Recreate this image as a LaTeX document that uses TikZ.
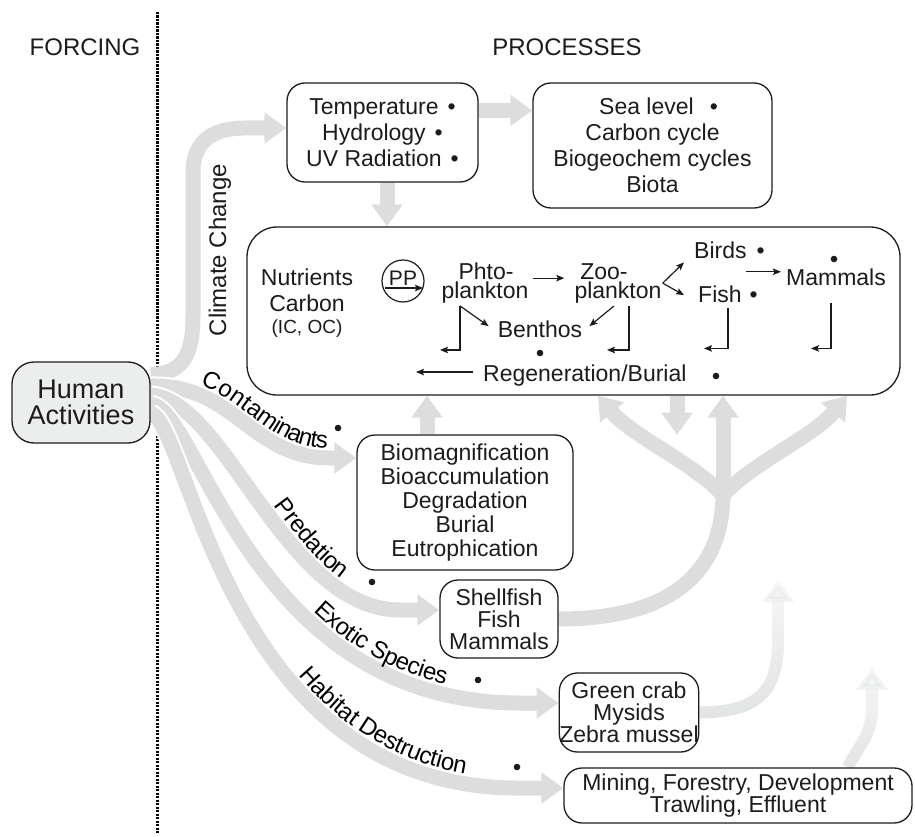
\documentclass[tikz,border=0pt]{standalone}
\usepackage{fontspec}
\setmainfont{Liberation Sans}
\usetikzlibrary{arrows.meta,decorations.text,fadings}
\pgfdeclarelayer{bg}
\pgfsetlayers{bg,main}
\definecolor{ink}{RGB}{28,28,28}
\definecolor{band}{RGB}{221,221,221}
\definecolor{faint}{RGB}{226,228,228}
\definecolor{hafill}{RGB}{236,238,238}
\tikzfading[name=upfade, top color=transparent!70, bottom color=transparent!0]
\newcommand{\bodyfont}{\fontsize{23}{26}\selectfont}
\newcommand{\labelfont}{\fontsize{24}{24}\selectfont}
\newcommand{\gap}{\hspace{9pt}}

\begin{document}
\begin{tikzpicture}[x=1pt,y=-1pt,
  every node/.style={inner sep=0pt,text=ink,font=\bodyfont},
  box/.style={draw=ink,line width=1.3pt,rounded corners=18pt,fill=white,align=center},
  flow/.style={draw=band,line width=15pt,-{Triangle[width=30pt,length=22pt]}},
  fflow/.style={draw=faint,line width=12pt,-{Triangle[width=30pt,length=22pt]},path fading=upfade},
  casing/.style={draw=white,line width=19pt,shorten >=24pt},
  link/.style={draw=ink,line width=1.2pt,-{Stealth[length=8pt,width=6.5pt,inset=1.5pt]}},
  along/.style={decorate,decoration={text along path,raise=10pt,text align={left indent=#1}}},
]
\useasboundingbox (0,0) rectangle (915,837);

% headings
\node[font=\labelfont] (forcing) at (85,47) {FORCING};
\node[font=\labelfont] (processes) at (567,47) {PROCESSES};

% boxes
\node[box,fill=hafill,rounded corners=22pt,minimum width=138pt,minimum height=81pt,
      font=\fontsize{27}{26}\selectfont] (human) at (81,402.5) {Human\\Activities};
\node[box,minimum width=191pt,minimum height=99pt] (temp) at (382.5,132.5)
  {Temperature\gap\textbullet\\Hydrology\gap\textbullet\\UV Radiation\gap\textbullet};
\node[box,minimum width=239pt,minimum height=125pt] (sea) at (652.5,145.5)
  {\hspace{12pt}Sea level\hspace{16pt}\textbullet\\Carbon cycle\\Biogeochem cycles\\Biota};
\node[box,rounded corners=30pt,minimum width=653pt,minimum height=168pt] (web) at (573.5,311) {};
\node[box,font=\fontsize{23}{24}\selectfont,minimum width=216pt,minimum height=135pt] (bio) at (465,502.5)
  {Biomagnification\\Bioaccumulation\\Degradation\\Burial\\Eutrophication};
\node[box,font=\fontsize{23}{22}\selectfont,minimum width=118pt,minimum height=78pt] (shell) at (499,619)
  {Shellfish\\Fish\\Mammals};
\node[box,font=\fontsize{23}{22}\selectfont,minimum width=132pt,minimum height=79pt] (crab) at (629,712.5)
  {Green crab\\Mysids\\Zebra mussel};
\node[box,font=\fontsize{23}{21}\selectfont,minimum width=348pt,minimum height=55pt] (mine) at (738,795.5)
  {Mining, Forestry, Development\\Trawling, Effluent};

% food web inside the large box
\node[anchor=base] (nut1) at (307,285) {Nutrients};
\node[anchor=base] (nut2) at (307,311) {Carbon};
\node[anchor=base,font=\fontsize{19}{19}\selectfont] (nut3) at (307,333) {(IC, OC)};
\node[circle,draw=ink,line width=1.2pt,minimum size=42pt] (pp) at (403,281) {};
\node[anchor=base,font=\fontsize{21}{21}\selectfont] (ppl) at (403,285) {PP};
\node[anchor=base] (phto1) at (486,279) {Phto-};
\node[anchor=base] (phto2) at (485,298) {plankton};
\node[anchor=base] (zoo1) at (604,279) {Zoo-};
\node[anchor=base] (zoo2) at (618,298) {plankton};
\node[anchor=base west] (birds) at (694,258) {Birds\hspace{10pt}\textbullet};
\node[anchor=base west] (fish) at (698,302) {Fish\hspace{8pt}\textbullet};
\node[anchor=base] (mammals) at (836,285) {Mammals};
\node[anchor=base] (benthos) at (540,337) {Benthos};
\node[anchor=base west] (regen) at (483,381) {Regeneration/Burial};
\fill[ink] (834,259) circle (3.3pt);
\fill[ink] (540,353) circle (3.3pt);
\fill[ink] (716,376) circle (3.3pt);

\draw[link] ([xshift=-18pt,yshift=-7pt]pp.center) -- ([xshift=20pt,yshift=-7pt]pp.center);
\draw[link] ([xshift=4pt,yshift=3pt]phto2.north east) -- ([xshift=-10pt,yshift=3pt]zoo2.north west);
\draw[link] ([xshift=-25pt,yshift=-3pt]phto2.south) -- ([xshift=-9pt,yshift=-6pt]benthos.north west);
\draw[link] ([xshift=-4pt,yshift=-3pt]zoo2.south) -- ([xshift=7pt,yshift=-6pt]benthos.north east);
\coordinate (forkpt) at ([xshift=1pt,yshift=-2pt]zoo2.north east);
\draw[link] (forkpt) -- ([xshift=-10pt,yshift=-4pt]birds.south west);
\draw[link] (forkpt) -- ([xshift=-14pt,yshift=-10pt]fish.north west);
\draw[link] ([xshift=-40pt,yshift=5pt]mammals.west) -- ([xshift=-5pt,yshift=5pt]mammals.west);
\draw[link] ([xshift=-25pt,yshift=-3pt]phto2.south) -- ++(0,44) -- ++(-20,0);
\draw[link] ([xshift=11pt,yshift=-3pt]zoo2.south) -- ++(0,44) -- ++(-22,0);
\draw[link] ([yshift=-6pt]fish.south) -- ++(0,40) -- ++(-24,0);
\draw[link] ([xshift=-5pt,yshift=-18pt]mammals.south) -- ++(0,45) -- ++(-20,0);
\draw[link] ([xshift=-10pt,yshift=3pt]regen.west) -- ([xshift=-67pt,yshift=3pt]regen.west);

% forcing labels
\node[font=\labelfont,rotate=90] (lclim) at (220,250) {Climate Change};
\coordinate (sClim) at ([yshift=28pt]human.east);
\coordinate (sCon) at ([yshift=16.5pt]human.east);
\coordinate (sPred) at ([yshift=7.5pt]human.east);
\coordinate (sExo) at ([yshift=-1.5pt]human.east);
\coordinate (sHab) at ([yshift=-10.5pt]human.east);
\coordinate (tCon) at ([yshift=44.5pt]bio.west);
\coordinate (tPred) at ([yshift=9pt]shell.west);
\coordinate (tExo) at ([yshift=9.5pt]crab.west);
\coordinate (tHab) at ([yshift=7.5pt]mine.west);

\path[along=46pt,decoration={text={|\labelfont|Contaminants}}]
  (sCon) .. controls (235,384) and (250,458) .. (330,458) -- (tCon);
\path[along=168pt,decoration={text={|\labelfont|Predation}}]
  (sPred) .. controls (226,400) and (285,610) .. (400,610) -- (tPred);
\path[along=268pt,decoration={text={|\labelfont|Exotic Species}}]
  (sExo) .. controls (200,410) and (250,703) .. (520,703) -- (tExo);
\path[along=306pt,decoration={text={|\labelfont|Habitat Destruction}}]
  (sHab) .. controls (190,425) and (225,790) .. (520,788) -- (tHab);
\fill[ink] (338,428) circle (3.3pt);
\fill[ink] (372,582) circle (3.3pt);
\fill[ink] (478,680) circle (3.3pt);
\fill[ink] (517,767) circle (3.3pt);

\begin{pgfonlayer}{bg}
  % forcing / processes divider
  \draw[black,line width=3pt,dash pattern=on 2.4pt off 1.1pt] (157,12) -- (157,834);
  % forcing arrows
  \draw[flow] (sClim) .. controls (186,374) and (193,350) .. (193,315) -- (193,172)
    .. controls (193,142) and (212,128) .. (245,128) -- ([yshift=4.5pt]temp.west);
  \draw[casing] (sCon) .. controls (235,384) and (250,458) .. (330,458) -- (tCon);
  \draw[flow] (sCon) .. controls (235,384) and (250,458) .. (330,458) -- (tCon);
  \draw[casing] (sPred) .. controls (226,400) and (285,610) .. (400,610) -- (tPred);
  \draw[flow] (sPred) .. controls (226,400) and (285,610) .. (400,610) -- (tPred);
  \draw[casing] (sExo) .. controls (200,410) and (250,703) .. (520,703) -- (tExo);
  \draw[flow] (sExo) .. controls (200,410) and (250,703) .. (520,703) -- (tExo);
  \draw[casing] (sHab) .. controls (190,425) and (225,790) .. (520,788) -- (tHab);
  \draw[flow] (sHab) .. controls (190,425) and (225,790) .. (520,788) -- (tHab);
  % process arrows
  \coordinate (tsa) at ([yshift=22pt]temp.east);
  \draw[flow] (tsa) -- (tsa -| sea.west);
  \draw[flow] ([xshift=4.5pt]temp.south) -- ([xshift=4.5pt]temp.south |- web.north);
  \draw[flow] ([xshift=-38pt]bio.north) -- ([xshift=-146.5pt]web.south);
  % branching return to the food web
  \coordinate (junction) at (723,495);
  \draw[band,line width=15pt] (shell.east) .. controls (680,619) and (723,565) .. (723,493);
  \draw[flow] (junction) .. controls (692,462) and (632,436) .. ([xshift=24.5pt]web.south);
  \draw[flow] (junction) -- ([xshift=149.5pt]web.south);
  \draw[flow] (junction) .. controls (754,462) and (814,436) .. ([xshift=273.5pt]web.south);
  \draw[flow] ([xshift=103.5pt]web.south) -- ++(0,39);
  % faint return arrows
  \coordinate (crabTip) at (778,580);
  \draw[fflow] (crab.east) .. controls (760,712) and (778,690) .. (778,640) -- (crabTip);
  \coordinate (mineTip) at (872,668);
  \draw[fflow] ([xshift=110pt]mine.north) .. controls (856,750) and (872,735) .. (872,710) -- (mineTip);
\end{pgfonlayer}
\end{tikzpicture}
\end{document}
